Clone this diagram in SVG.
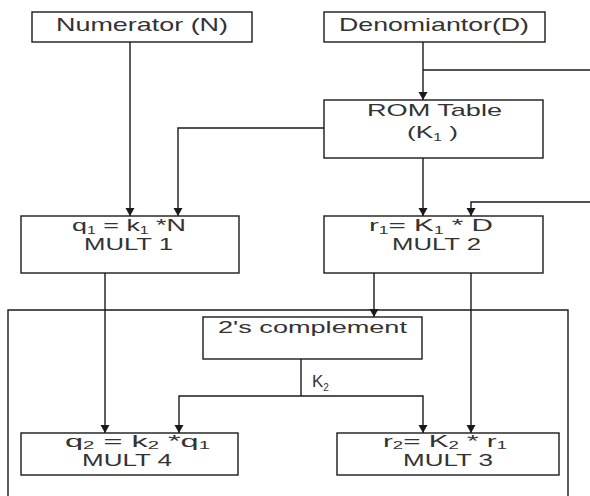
<svg xmlns="http://www.w3.org/2000/svg" width="590" height="496" viewBox="0 0 590 496">
<defs>
<marker id="ah" markerWidth="10" markerHeight="10" refX="9" refY="5" orient="auto" markerUnits="userSpaceOnUse">
<path d="M1,0.5 L9,5 L1,9.5 Z" fill="#1a1a1a"/>
</marker>
<style>
.box{fill:#fff;stroke:#1a1a1a;stroke-width:1.4}
.ln{fill:none;stroke:#1a1a1a;stroke-width:1.4}
.ar{fill:none;stroke:#1a1a1a;stroke-width:1.4;marker-end:url(#ah)}
text{font-family:"Liberation Sans",Arial,sans-serif;fill:#333}
.big{font-size:19px}
.mid{font-size:17px}
.sm{font-size:16px}
.sub{font-size:10px}
</style>
</defs>
<rect width="590" height="496" fill="#fff"/>
<g id="connectors">
<path class="ln" d="M8,500 V310 H568 V500"/>
<path class="ar" d="M130,42 V216"/>
<path class="ar" d="M423,42 V100"/>
<path class="ln" d="M423,70 H590"/>
<path class="ar" d="M324,128 H178 V216"/>
<path class="ar" d="M423,158 V216"/>
<path class="ar" d="M590,202 H471 V216"/>
<path class="ar" d="M105,273 V433"/>
<path class="ar" d="M374,273 V317"/>
<path class="ar" d="M471,273 V433"/>
<path class="ln" d="M301,359 V396"/>
<path class="ar" d="M301,396 H179 V433"/>
<path class="ar" d="M301,396 H423 V433"/>
<text class="mid" x="312" y="387">K<tspan class="sub" dy="4">2</tspan></text>
</g>
<g id="numerator">
<rect class="box" x="32" y="12" width="220" height="30"/>
<text class="big" x="56" y="31" textLength="172" lengthAdjust="spacingAndGlyphs">Numerator (N)</text>
</g>
<g id="denominator">
<rect class="box" x="324" y="12" width="221" height="30"/>
<text class="big" x="339" y="31" textLength="190" lengthAdjust="spacingAndGlyphs">Denomiantor(D)</text>
</g>
<g id="rom">
<rect class="box" x="324" y="100" width="219" height="58"/>
<text class="mid" x="367" y="116" textLength="135" lengthAdjust="spacingAndGlyphs">ROM Table</text>
<text class="mid" x="407" y="138" textLength="51" lengthAdjust="spacingAndGlyphs">(K<tspan class="sub" dy="3">1</tspan><tspan dy="-3"> )</tspan></text>
</g>
<g id="mult1">
<rect class="box" x="21" y="216" width="218" height="57"/>
<text class="mid" x="72" y="231" textLength="114" lengthAdjust="spacingAndGlyphs">q<tspan class="sub" dy="3">1</tspan><tspan dy="-3"> = k</tspan><tspan class="sub" dy="3">1</tspan><tspan dy="-3">  *N</tspan></text>
<text class="mid" x="84" y="250" textLength="89" lengthAdjust="spacingAndGlyphs">MULT 1</text>
</g>
<g id="mult2">
<rect class="box" x="324" y="216" width="219" height="57"/>
<text class="mid" x="369" y="231" textLength="124" lengthAdjust="spacingAndGlyphs">r<tspan class="sub" dy="3">1</tspan><tspan dy="-3">= K</tspan><tspan class="sub" dy="3">1</tspan><tspan dy="-3">   * D</tspan></text>
<text class="mid" x="392" y="250" textLength="89" lengthAdjust="spacingAndGlyphs">MULT 2</text>
</g>
<g id="twos">
<rect class="box" x="203" y="317" width="219" height="42"/>
<text class="mid" x="218" y="333" textLength="189" lengthAdjust="spacingAndGlyphs">2's complement</text>
</g>
<g id="mult4">
<rect class="box" x="21" y="433" width="217" height="42"/>
<text class="sm" x="65" y="447" textLength="145" lengthAdjust="spacingAndGlyphs">q<tspan class="sub" dy="2">2</tspan><tspan dy="-2"> = k</tspan><tspan class="sub" dy="2">2</tspan><tspan dy="-2"> *q</tspan><tspan class="sub" dy="2">1</tspan></text>
<text class="sm" x="82" y="466" textLength="90" lengthAdjust="spacingAndGlyphs">MULT 4</text>
</g>
<g id="mult3">
<rect class="box" x="337" y="433" width="222" height="42"/>
<text class="sm" x="383" y="447" textLength="124" lengthAdjust="spacingAndGlyphs">r<tspan class="sub" dy="2">2</tspan><tspan dy="-2">= K</tspan><tspan class="sub" dy="2">2</tspan><tspan dy="-2">   * r</tspan><tspan class="sub" dy="2">1</tspan></text>
<text class="sm" x="403" y="466" textLength="90" lengthAdjust="spacingAndGlyphs">MULT 3</text>
</g>
</svg>
